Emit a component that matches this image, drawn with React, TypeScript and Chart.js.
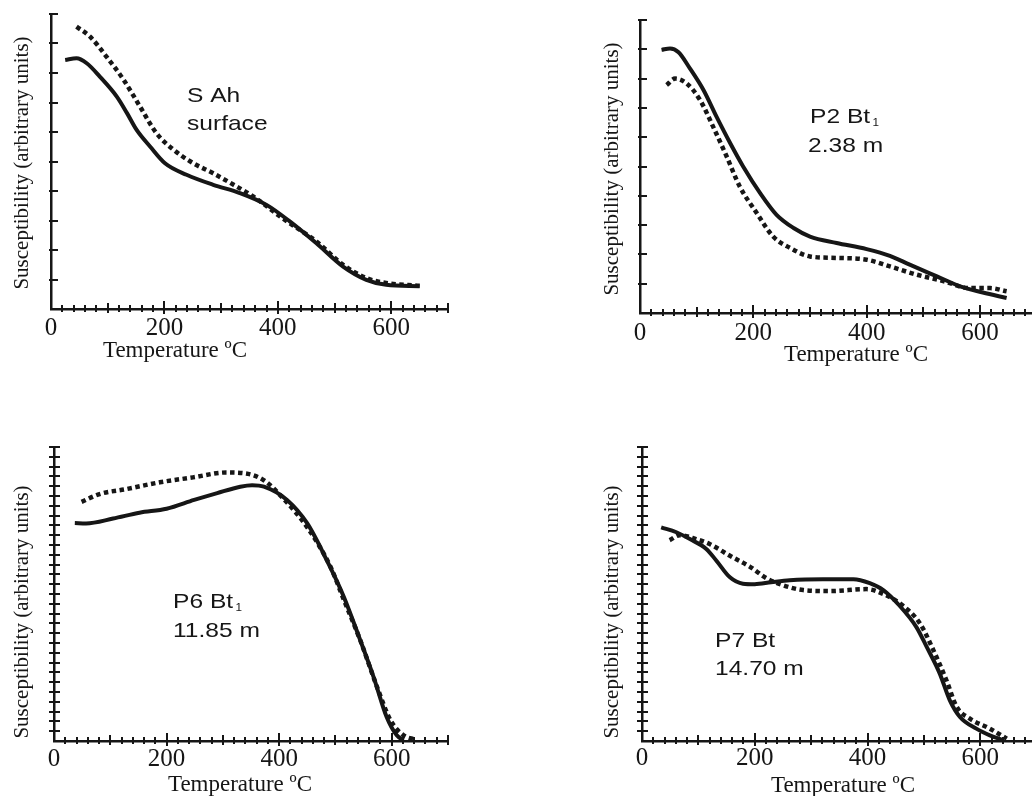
import React, { useEffect, useRef } from 'react';
import { Chart, registerables } from 'chart.js';

Chart.register(...registerables);

// ---------- data (temperature °C, susceptibility in axis tick units) ----------
const p1SolidT = [25, 45, 63, 86, 116, 134, 151, 175, 201, 239, 286, 333, 380, 421, 468, 515, 556, 591, 650];
const p1SolidK = [8.44, 8.5, 8.33, 7.88, 7.2, 6.64, 6.07, 5.5, 4.94, 4.55, 4.21, 3.93, 3.53, 2.97, 2.23, 1.44, 0.99, 0.82, 0.77];
const p1DotT = [45, 69, 98, 128, 157, 186, 216, 251, 286, 322, 357, 410, 468, 515, 556, 591, 650];
const p1DotK = [9.57, 9.23, 8.55, 7.77, 6.86, 5.96, 5.4, 4.94, 4.6, 4.21, 3.81, 3.05, 2.29, 1.5, 1.05, 0.88, 0.79];

const p2SolidT = [38, 53, 68, 88, 112, 135, 159, 182, 212, 241, 271, 300, 347, 400, 441, 476, 524, 565, 605, 647];
const p2SolidK = [8.98, 9.03, 8.9, 8.35, 7.61, 6.7, 5.8, 5.0, 4.09, 3.35, 2.9, 2.61, 2.39, 2.18, 1.95, 1.65, 1.25, 0.91, 0.7, 0.51];
const p2DotT = [47, 62, 82, 106, 129, 153, 176, 206, 235, 265, 300, 347, 400, 441, 488, 535, 582, 618, 647];
const p2DotK = [7.78, 8.0, 7.84, 7.27, 6.36, 5.34, 4.32, 3.41, 2.61, 2.22, 1.93, 1.88, 1.82, 1.59, 1.31, 1.09, 0.85, 0.85, 0.74];

const p3SolidT = [37, 57, 105, 152, 200, 249, 290, 331, 352, 373, 414, 450, 485, 515, 544, 568, 591, 609, 621];
const p3SolidK = [22.24, 22.2, 22.7, 23.3, 23.7, 24.6, 25.3, 25.95, 26.1, 25.95, 24.6, 22.2, 18.4, 14.7, 10.3, 6.5, 2.45, 0.58, 0.07];
const p3DotT = [49, 81, 128, 188, 247, 306, 341, 373, 408, 450, 491, 515, 544, 574, 598, 621, 642];
const p3DotK = [24.4, 25.2, 25.7, 26.4, 26.9, 27.4, 27.3, 26.6, 24.7, 21.8, 17.8, 14.4, 10.3, 5.5, 2.1, 0.58, 0.14];

const p4SolidT = [34, 61, 85, 114, 132, 156, 179, 200, 229, 262, 321, 375, 404, 428, 457, 487, 505, 528, 546, 564, 593, 617, 641];
const p4SolidK = [21.8, 21.3, 20.6, 19.6, 18.4, 16.7, 16.05, 16.0, 16.2, 16.4, 16.5, 16.5, 16.1, 15.4, 13.8, 11.6, 9.6, 6.9, 4.15, 2.45, 1.26, 0.58, 0.07];
const p4DotT = [49, 67, 96, 120, 156, 191, 221, 250, 286, 333, 398, 428, 463, 493, 517, 540, 558, 581, 617, 647];
const p4DotK = [20.5, 21.0, 20.6, 20.1, 18.9, 17.8, 16.6, 15.9, 15.4, 15.3, 15.5, 15.0, 13.8, 12.0, 9.25, 6.2, 3.5, 2.3, 1.26, 0.24];

const xTickLabels = ['0', '200', '400', '600'];
const yTitle = 'Susceptibility (arbitrary units)';
const xTitle = 'Temperature ºC';

const INK = '#161616';

type Ann = { text: string; sub?: string; x: number; y: number };
type PanelCfg = {
  left: number; top: number; width: number; height: number;
  pad: { left: number; top: number; right: number; bottom: number };
  xMax: number; yMax: number; labelPad: number;
  yTickL: number; yTickR: number;
  yTitleAt: { x: number; y: number };
  xTitleAt: { x: number; y: number };
  ann: Ann[];
  solid: { t: number[]; k: number[] };
  dot: { t: number[]; k: number[] };
};

const panels: PanelCfg[] = [
  {
    left: 0, top: 0, width: 516, height: 398,
    pad: { left: 51, top: 14, right: 68, bottom: 89 },
    xMax: 700, yMax: 10, labelPad: 4, yTickL: 2, yTickR: 7,
    yTitleAt: { x: 22, y: 163 }, xTitleAt: { x: 175, y: 357 },
    ann: [{ text: 'S Ah', x: 187, y: 102 }, { text: 'surface', x: 187, y: 130 }],
    solid: { t: p1SolidT, k: p1SolidK }, dot: { t: p1DotT, k: p1DotK },
  },
  {
    left: 516, top: 0, width: 517, height: 398,
    pad: { left: 124, top: 20, right: 2, bottom: 85 },
    xMax: 690, yMax: 10, labelPad: 5, yTickL: 2, yTickR: 7,
    yTitleAt: { x: 612, y: 169 }, xTitleAt: { x: 856, y: 361 },
    ann: [{ text: 'P2 Bt', sub: '1', x: 810, y: 123 }, { text: '2.38 m', x: 808, y: 152 }],
    solid: { t: p2SolidT, k: p2SolidK }, dot: { t: p2DotT, k: p2DotK },
  },
  {
    left: 0, top: 398, width: 516, height: 398,
    pad: { left: 54, top: 49, right: 68, bottom: 55 },
    xMax: 700, yMax: 30, labelPad: 3, yTickL: 5, yTickR: 6,
    yTitleAt: { x: 22, y: 612 }, xTitleAt: { x: 240, y: 791 },
    ann: [{ text: 'P6 Bt', sub: '1', x: 173, y: 608 }, { text: '11.85 m', x: 173, y: 637 }],
    solid: { t: p3SolidT, k: p3SolidK }, dot: { t: p3DotT, k: p3DotK },
  },
  {
    left: 516, top: 398, width: 517, height: 398,
    pad: { left: 126, top: 49, right: 2, bottom: 55 },
    xMax: 690, yMax: 30, labelPad: 2, yTickL: 5, yTickR: 6,
    yTitleAt: { x: 612, y: 612 }, xTitleAt: { x: 843, y: 792 },
    ann: [{ text: 'P7 Bt', x: 715, y: 647 }, { text: '14.70 m', x: 715, y: 675 }],
    solid: { t: p4SolidT, k: p4SolidK }, dot: { t: p4DotT, k: p4DotK },
  },
];

const decorPlugin = {
  id: 'decor',
  afterDraw(chart: any, _args: any, opts: any) {
    const cfg: PanelCfg = opts.cfg;
    if (!cfg) return;
    const ctx: CanvasRenderingContext2D = chart.ctx;
    const xs = chart.scales.x;
    const ys = chart.scales.y;
    const area = chart.chartArea;
    ctx.save();
    ctx.strokeStyle = INK;
    ctx.lineWidth = 2;
    ctx.beginPath();
    for (let v = 20; v <= cfg.xMax; v += 20) {
      const px = Math.round(xs.getPixelForValue(v));
      const up = v % 200 === 0 ? 8 : v % 100 === 0 ? 6 : 4;
      const dn = v % 200 === 0 ? 5 : v % 100 === 0 ? 4 : 3;
      ctx.moveTo(px, area.bottom - up);
      ctx.lineTo(px, area.bottom + dn);
    }
    for (let v = 1; v <= cfg.yMax; v++) {
      const py = Math.round(ys.getPixelForValue(v));
      ctx.moveTo(area.left - cfg.yTickL, py);
      ctx.lineTo(area.left + cfg.yTickR, py);
    }
    ctx.stroke();

    ctx.fillStyle = INK;
    // y title
    ctx.save();
    ctx.font = '21px "Liberation Serif"';
    ctx.textAlign = 'center';
    ctx.textBaseline = 'middle';
    ctx.translate(cfg.yTitleAt.x - cfg.left, cfg.yTitleAt.y - cfg.top);
    ctx.rotate(-Math.PI / 2);
    ctx.fillText(yTitle, 0, 0);
    ctx.restore();
    // x title
    ctx.font = '23px "Liberation Serif"';
    ctx.textAlign = 'center';
    ctx.textBaseline = 'alphabetic';
    ctx.fillText(xTitle, cfg.xTitleAt.x - cfg.left, cfg.xTitleAt.y - cfg.top);
    // annotations
    const sx = 1.17;
    for (const a of cfg.ann) {
      ctx.save();
      ctx.font = '21px "Liberation Sans"';
      ctx.textAlign = 'left';
      ctx.translate(a.x - cfg.left, a.y - cfg.top);
      ctx.scale(sx, 1);
      ctx.fillText(a.text, 0, 0);
      if (a.sub) {
        const w = ctx.measureText(a.text).width;
        ctx.font = '10px "Liberation Sans"';
        ctx.fillText(a.sub, w + 2, 3);
      }
      ctx.restore();
    }
    ctx.restore();
  },
};

function Panel({ cfg }: { cfg: PanelCfg }) {
  const ref = useRef<HTMLCanvasElement | null>(null);
  useEffect(() => {
    if (!ref.current) return;
    const chart = new Chart(ref.current, {
      type: 'line',
      data: {
        datasets: [
          {
            data: cfg.solid.t.map((t, i) => ({ x: t, y: cfg.solid.k[i] })),
            borderColor: INK,
            borderWidth: 4,
            pointRadius: 0,
            cubicInterpolationMode: 'monotone',
            fill: false,
          },
          {
            data: cfg.dot.t.map((t, i) => ({ x: t, y: cfg.dot.k[i] })),
            borderColor: INK,
            borderWidth: 4.5,
            borderDash: [4.5, 3.5],
            borderCapStyle: 'butt',
            pointRadius: 0,
            cubicInterpolationMode: 'monotone',
            fill: false,
          },
        ],
      },
      options: {
        responsive: false,
        animation: false,
        devicePixelRatio: 1,
        events: [],
        layout: { padding: { left: cfg.pad.left, top: cfg.pad.top, right: cfg.pad.right, bottom: 0 } },
        plugins: {
          legend: { display: false },
          tooltip: { enabled: false },
          decor: { cfg },
        } as any,
        scales: {
          x: {
            type: 'linear',
            min: 0,
            max: cfg.xMax,
            grid: { display: false, drawTicks: false },
            border: { display: true, color: INK, width: 2.5 },
            ticks: {
              stepSize: 20,
              autoSkip: false,
              maxRotation: 0,
              padding: cfg.labelPad,
              color: INK,
              font: { family: '"Liberation Serif"', size: 25 },
              callback: (v: any) => {
                const n = Number(v);
                if (n % 200 !== 0) return '';
                return xTickLabels[n / 200] ?? '';
              },
            },
            afterFit: (s: any) => {
              s.height = cfg.pad.bottom;
              s.paddingLeft = 0;
              s.paddingRight = 0;
            },
          },
          y: {
            type: 'linear',
            min: 0,
            max: cfg.yMax,
            grid: { display: false, drawTicks: false },
            border: { display: true, color: INK, width: 2.5 },
            ticks: { display: false, stepSize: 1 },
            afterFit: (s: any) => {
              s.width = 0;
              s.paddingTop = 0;
              s.paddingBottom = 0;
            },
          },
        },
      } as any,
      plugins: [decorPlugin as any],
    });
    return () => chart.destroy();
  }, [cfg]);
  return (
    <canvas
      ref={ref}
      width={cfg.width}
      height={cfg.height}
      style={{ position: 'absolute', left: cfg.left, top: cfg.top, width: cfg.width, height: cfg.height }}
    />
  );
}

export default function App() {
  return (
    <div style={{ position: 'absolute', left: 0, top: 0, width: 1033, height: 796, background: '#fff', overflow: 'hidden' }}>
      {panels.map((p, i) => (
        <Panel key={i} cfg={p} />
      ))}
    </div>
  );
}
